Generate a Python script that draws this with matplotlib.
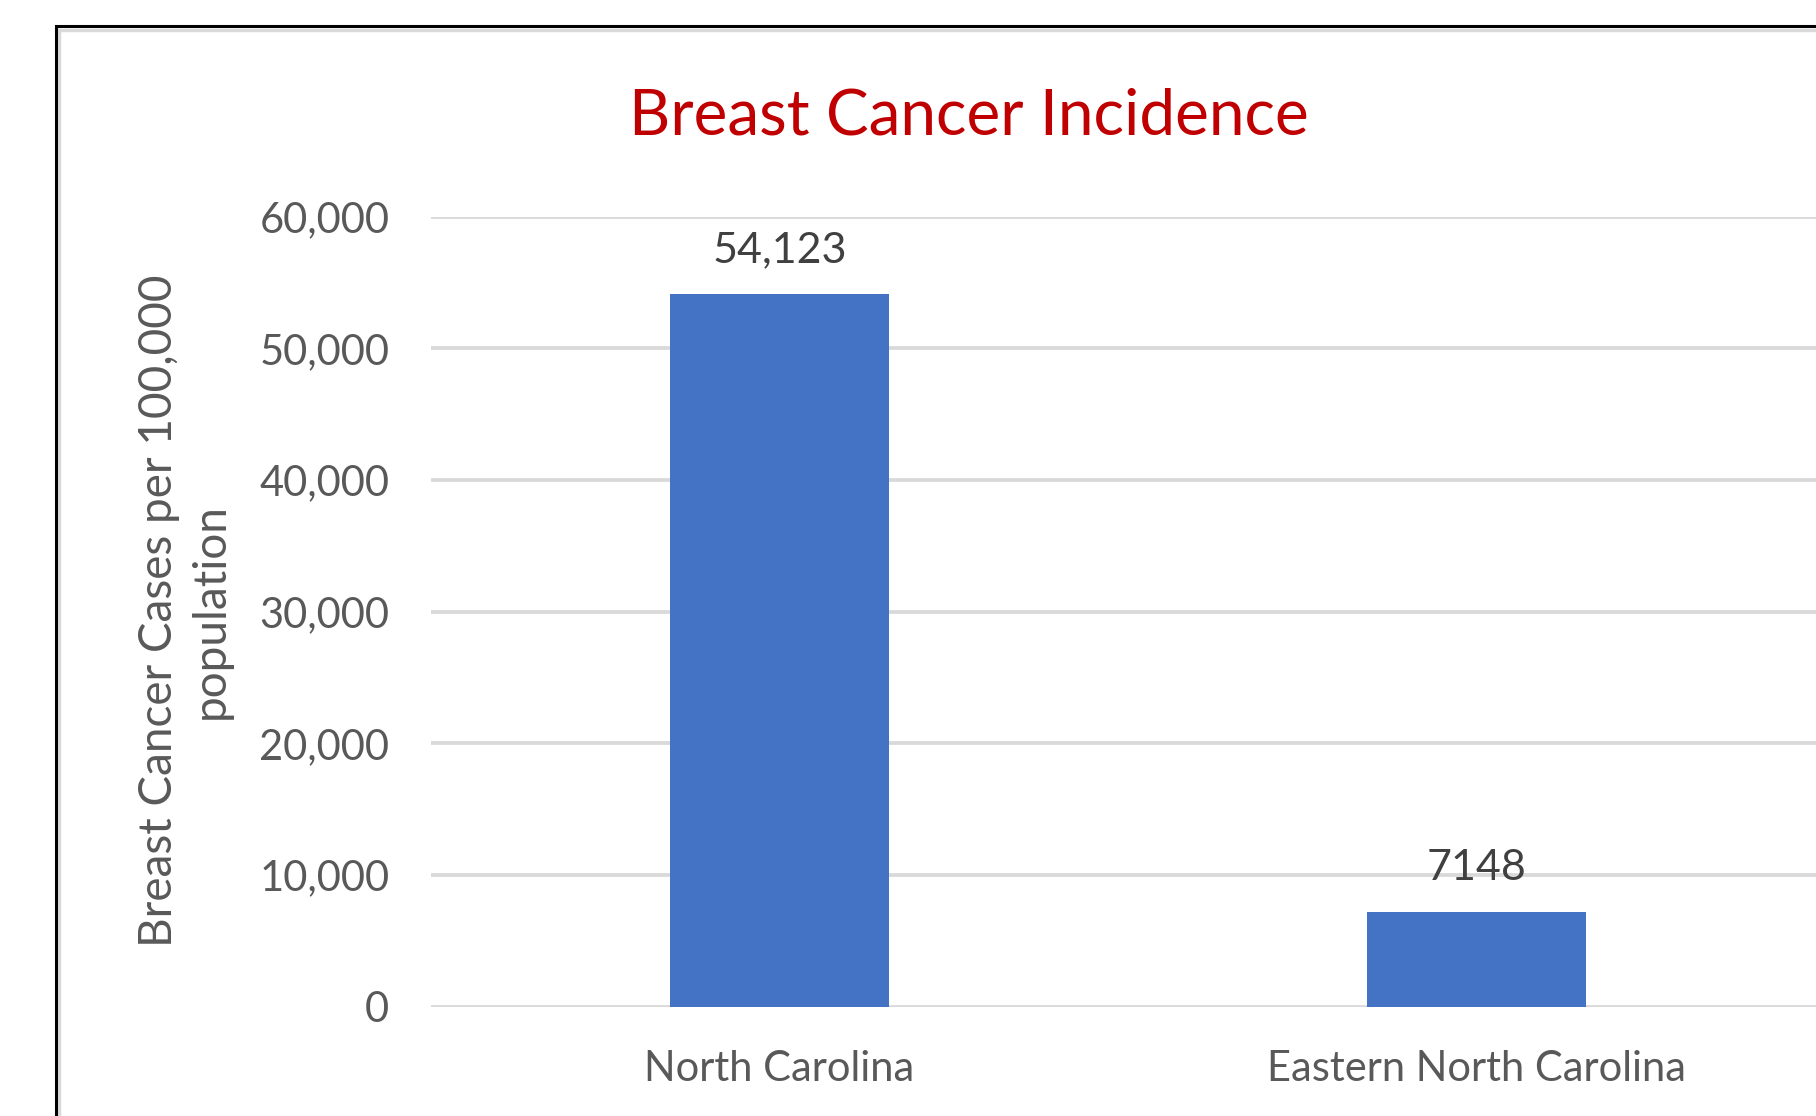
import matplotlib.pyplot as plt
from matplotlib.patches import Rectangle
from matplotlib.ticker import FuncFormatter

# Data
regions = ['North Carolina', 'Eastern North Carolina']
cases = [54123, 7148]
case_labels = ['54,123', '7148']
y_ticks = [0, 10000, 20000, 30000, 40000, 50000, 60000]

plt.rcParams['font.family'] = ['Lato', 'DejaVu Sans']

fig = plt.figure(figsize=(18.16, 11.16), dpi=100)
fig.patch.set_facecolor('white')

# chart frame (runs off the right and bottom edges)
frame_shadow = Rectangle((0.0306 + 0.002, -0.1), 1.2, 1.0767 - 0.004,
                         transform=fig.transFigure, fill=False,
                         edgecolor='#d9d9d9', linewidth=2.5, zorder=0)
frame = Rectangle((0.0306, -0.1), 1.2, 1.0767,
                  transform=fig.transFigure, fill=False,
                  edgecolor='black', linewidth=2.2, zorder=1)
fig.patches.extend([frame_shadow, frame])

ax = fig.add_axes([0.2373, 0.0981, 0.7676, 0.7078])
x = range(len(regions))
bars = ax.bar(x, cases, width=0.314, color='#4472C4', zorder=3)

ax.set_xlim(-0.5, 1.5)
ax.set_ylim(0, 60000)
ax.set_yticks(y_ticks)
ax.yaxis.set_major_formatter(FuncFormatter(lambda v, p: f'{int(v):,}'))
ax.set_xticks(list(x))
ax.set_xticklabels(regions)

ax.grid(axis='y', color='#d9d9d9', linewidth=2.7, zorder=0)
ax.set_axisbelow(True)
for s in ax.spines.values():
    s.set_visible(False)
ax.tick_params(axis='both', length=0, labelsize=30, labelcolor='#595959')
ax.tick_params(axis='y', pad=30)
ax.tick_params(axis='x', pad=31)

ax.bar_label(bars, labels=case_labels, padding=18, fontsize=31, color='#404040')

fig.text(0.1019, 0.4525, 'Breast Cancer Cases per 100,000\npopulation',
         rotation=90, ha='center', va='center', multialignment='center',
         fontsize=33, color='#595959', linespacing=1.3)

fig.text(0.5336, 0.896, 'Breast Cancer Incidence', ha='center', va='center',
         fontsize=46, color='#C00000')

fig.savefig('out.png', dpi=100)
